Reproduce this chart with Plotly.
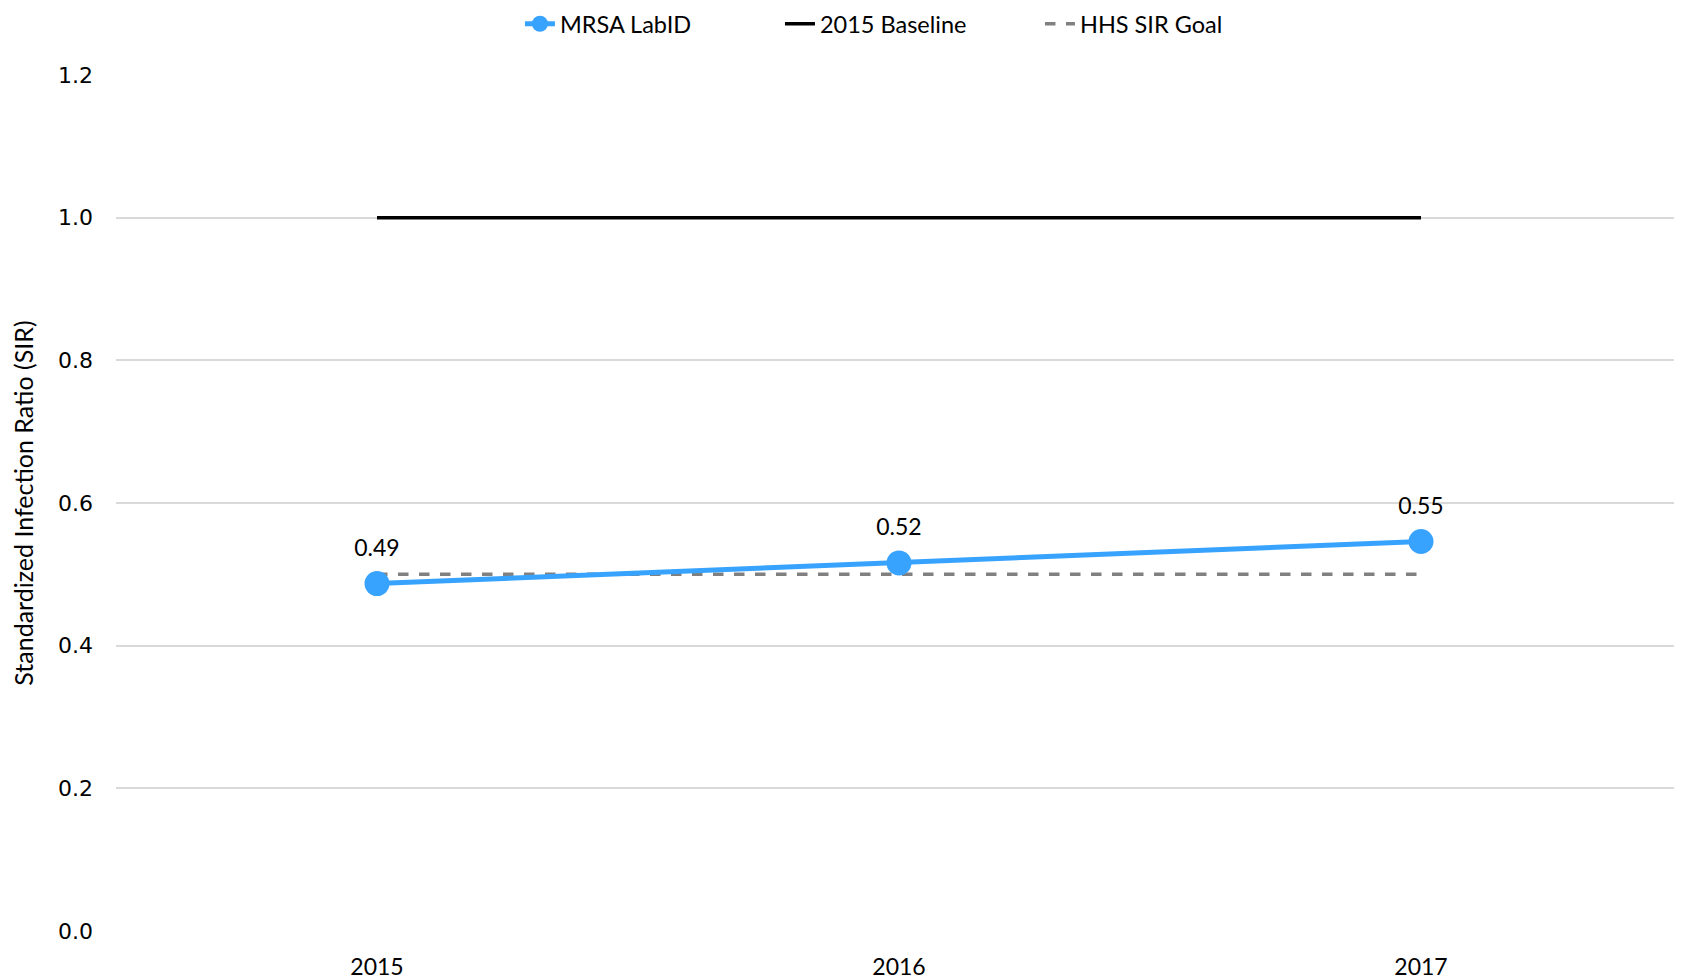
import plotly.graph_objects as go

years = ["2015", "2016", "2017"]
mrsa_sir = [0.487, 0.516, 0.546]
baseline = [1.0, 1.0, 1.0]
hhs_goal = [0.5, 0.5, 0.5]
y_ticks = [0.0, 0.2, 0.4, 0.6, 0.8, 1.0, 1.2]

fig = go.Figure()
fig.add_trace(go.Scatter(
    x=years, y=baseline, mode="lines", name="2015 Baseline",
    line=dict(color="#000000", width=3.5), legendrank=2))
fig.add_trace(go.Scatter(
    x=years, y=hhs_goal, mode="lines", name="HHS SIR Goal",
    line=dict(color="#808080", width=3.5, dash="dash"), legendrank=3))
fig.add_trace(go.Scatter(
    x=years, y=mrsa_sir, mode="lines+markers", name="MRSA LabID",
    line=dict(color="#38A3FF", width=5),
    marker=dict(color="#38A3FF", size=25), legendrank=1))
# data labels (invisible larger markers to lift the text)
fig.add_trace(go.Scatter(
    x=years, y=mrsa_sir, mode="markers+text", showlegend=False, hoverinfo="skip",
    marker=dict(color="rgba(0,0,0,0)", size=34),
    texttemplate="%{y:.2f}", textposition="top center",
    textfont=dict(family="Lato", size=23, color="#000000")))

fig.update_layout(
    width=1674, height=972,
    margin=dict(l=108, r=0, t=67, b=49, autoexpand=False),
    plot_bgcolor="white", paper_bgcolor="white",
    font=dict(family="Lato", size=23, color="#000000"),
    showlegend=True,
    legend=dict(orientation="h", x=0.507, xanchor="center", y=1.0596, yanchor="middle",
                font=dict(family="Lato", size=23.5, color="#000000"),
                bgcolor="rgba(0,0,0,0)", traceorder="normal",
                entrywidth=215, entrywidthmode="pixels"),
    xaxis=dict(type="category", range=[-0.5, 2.5], showgrid=False, showline=False,
               zeroline=False, ticks="", tickfont=dict(family="Lato", size=23),
               ticklabelstandoff=20, automargin=False),
    yaxis=dict(range=[0, 1.2], tickvals=y_ticks, ticktext=[f"{v:.1f}" for v in y_ticks],
               showgrid=True, gridcolor="#D9D9D9", gridwidth=1.5, zeroline=False,
               showline=False, ticks="", ticklabelstandoff=22, automargin=False,
               tickfont=dict(family="DejaVu Sans", size=22),
               title=dict(text="Standardized Infection Ratio (SIR)",
                          font=dict(family="Lato", size=25), standoff=18)),
)
fig.write_html("out.html")
